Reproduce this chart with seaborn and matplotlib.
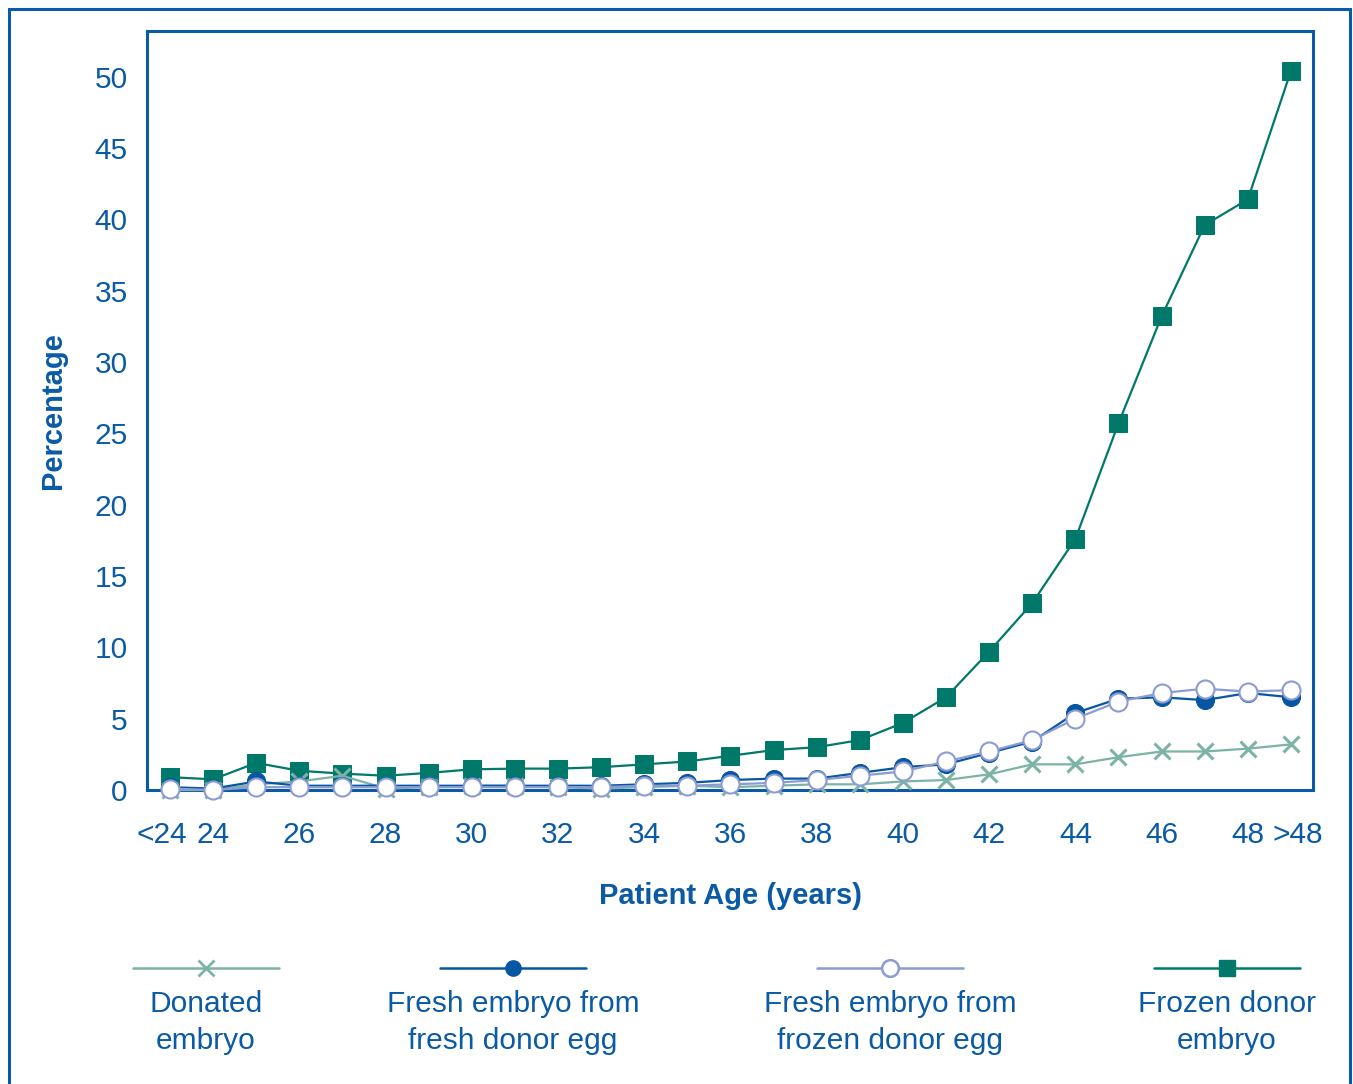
import numpy as np
import pandas as pd
import matplotlib
matplotlib.use("Agg")
import matplotlib.pyplot as plt
import matplotlib.transforms as mtransforms
import seaborn as sns
from matplotlib.lines import Line2D
from matplotlib.patches import Rectangle

# Data
ages = ["<24"] + [str(a) for a in range(24, 49)] + [">48"]
donated = [0.0, 0.0, 0.4, 0.6, 1.0, 0.1, 0.2, 0.3, 0.3, 0.2, 0.1, 0.2, 0.3, 0.2,
           0.3, 0.4, 0.4, 0.6, 0.7, 1.1, 1.8, 1.8, 2.3, 2.7, 2.7, 2.9, 3.2]
fresh_fresh = [0.2, 0.1, 0.6, 0.3, 0.3, 0.3, 0.3, 0.3, 0.3, 0.3, 0.3, 0.4, 0.5, 0.7,
               0.8, 0.8, 1.2, 1.6, 1.8, 2.6, 3.4, 5.4, 6.4, 6.5, 6.3, 6.8, 6.5]
fresh_frozen = [0.1, 0.0, 0.2, 0.2, 0.2, 0.2, 0.2, 0.2, 0.2, 0.2, 0.2, 0.3, 0.3, 0.4,
                0.5, 0.7, 1.0, 1.3, 2.0, 2.7, 3.5, 5.0, 6.2, 6.8, 7.1, 6.9, 7.0]
frozen_donor = [0.9, 0.75, 1.9, 1.35, 1.15, 1.0, 1.2, 1.45, 1.5, 1.5, 1.6, 1.8, 2.0, 2.4,
                2.8, 3.0, 3.5, 4.7, 6.5, 9.7, 13.1, 17.6, 25.7, 33.2, 39.6, 41.4, 50.4]

labels = ["Donated\nembryo", "Fresh embryo from\nfresh donor egg",
          "Fresh embryo from\nfrozen donor egg", "Frozen donor\nembryo"]

blue = "#0A5AA6"
c_donated = "#7DB3A6"
c_fresh = "#0756A4"
c_frozen_egg = "#8C9BD2"
c_frozen = "#00796A"

sns.set_style("white")
plt.rcParams["font.family"] = ["Liberation Sans", "DejaVu Sans"]

df = pd.DataFrame({"pos": np.arange(len(ages)), "age": ages,
                   "donated": donated, "fresh_fresh": fresh_fresh,
                   "fresh_frozen": fresh_frozen, "frozen_donor": frozen_donor})

fig = plt.figure(figsize=(13.53, 10.84), dpi=100)
ax = fig.add_axes([0.1087, 0.2712, 0.8617, 0.7002])

styles = [
    ("frozen_donor", dict(color=c_frozen, marker="s", markersize=13,
                          markerfacecolor=c_frozen, markeredgecolor=c_frozen), 2),
    ("donated", dict(color=c_donated, marker="x", markersize=12, markeredgewidth=2.2,
                     markeredgecolor=c_donated), 3),
    ("fresh_fresh", dict(color=c_fresh, marker="o", markersize=13,
                         markerfacecolor=c_fresh, markeredgecolor=c_fresh), 4),
    ("fresh_frozen", dict(color=c_frozen_egg, marker="o", markersize=13,
                          markerfacecolor="white", markeredgecolor=c_frozen_egg,
                          markeredgewidth=1.5), 5),
]
for col, kw, z in styles:
    sns.lineplot(data=df, x="pos", y=col, ax=ax, linewidth=1.6, zorder=z,
                 clip_on=False, **kw)

ax.set_xlim(-0.53, 26.51)
ax.set_ylim(0, 53.2)

tick_pos = [0, 1] + list(range(3, 26, 2)) + [26]
ax.set_xticks(df["pos"], minor=True)
ax.set_xticks(tick_pos)
ax.set_xticklabels([ages[i] for i in tick_pos])
ax.set_yticks(range(0, 51, 5))

ax.tick_params(axis="x", which="both", direction="in", length=11, width=1.2,
               color=blue, labelcolor=blue, labelsize=21.5, pad=22)
ax.tick_params(axis="y", which="major", direction="in", length=21, width=1.2,
               color=blue, labelcolor=blue, labelsize=21.5, pad=14)
for s in ax.spines.values():
    s.set_color(blue)
    s.set_linewidth(2.2)

# nudge the end labels apart from their neighbours
xt = ax.get_xticklabels()
xt[0].set_transform(xt[0].get_transform() +
                    mtransforms.ScaledTranslation(-0.08, 0, fig.dpi_scale_trans))
xt[-1].set_transform(xt[-1].get_transform() +
                     mtransforms.ScaledTranslation(0.07, 0, fig.dpi_scale_trans))

ax.set_xlabel("Patient Age (years)", fontsize=21, fontweight="bold", color=blue,
              labelpad=24)
ax.set_ylabel("Percentage", fontsize=21, fontweight="bold", color=blue, labelpad=20)

# outer frame
fig.add_artist(Rectangle((0.0067, -0.02), 0.9911, 1.0117, transform=fig.transFigure,
                         fill=False, edgecolor=blue, linewidth=2.2))

# legend below the plot: sample line with marker, text underneath
leg_x = [206 / 1353, 513 / 1353, 890 / 1353, 1227 / 1353]
leg_y = 1 - 968 / 1084
half = 73 / 1353
leg_styles = [
    dict(color=c_donated, marker="x", markersize=11, markeredgewidth=2.0),
    dict(color=c_fresh, marker="o", markersize=11, markerfacecolor=c_fresh),
    dict(color=c_frozen_egg, marker="o", markersize=12, markerfacecolor="white",
         markeredgewidth=1.8),
    dict(color=c_frozen, marker="s", markersize=12, markerfacecolor=c_frozen),
]
for x, lab, kw in zip(leg_x, labels, leg_styles):
    fig.add_artist(Line2D([x - half, x + half], [leg_y, leg_y], linewidth=1.8,
                          transform=fig.transFigure, color=kw["color"]))
    fig.add_artist(Line2D([x], [leg_y], linestyle="none", transform=fig.transFigure,
                          **kw))
    fig.text(x, leg_y - 0.0205, lab, ha="center", va="top", fontsize=21.5,
             color=blue, linespacing=1.4)

fig.savefig("out.png", dpi=100)
